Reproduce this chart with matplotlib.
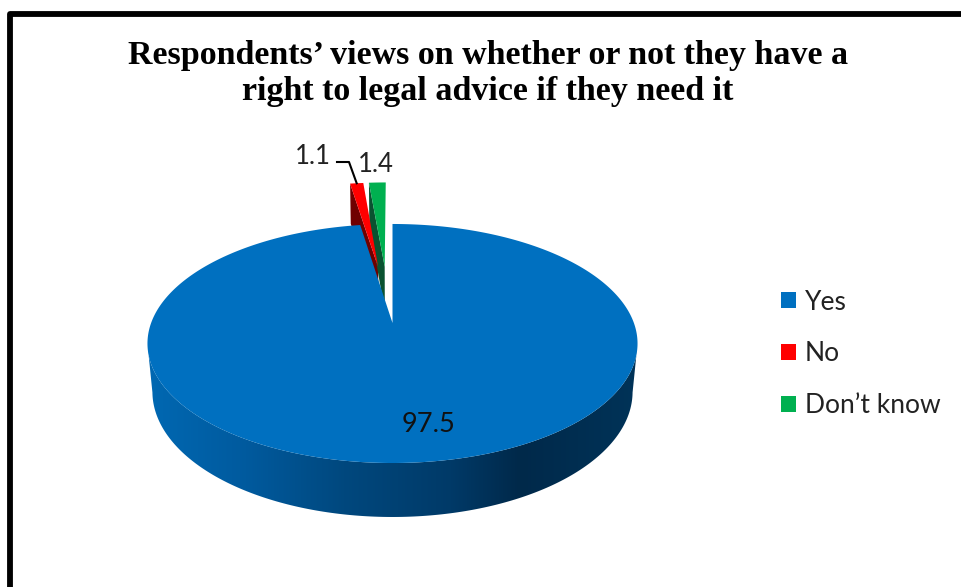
import numpy as np
import matplotlib
matplotlib.use('Agg')
import matplotlib.pyplot as plt
from matplotlib.colors import LinearSegmentedColormap
from matplotlib.patches import Patch, Polygon

labels = ['Yes', 'No', 'Don\u2019t know']
values = [97.5, 1.1, 1.4]
colors = ['#0070c0', '#ff0000', '#00b050']
wall_colors = ['#004a80', '#700000', '#0a5230']
explode = [0.0, 0.53, 0.53]
nudge = [0.0, 0.0, -0.012]
title = 'Respondents\u2019 views on whether or not they have a\nright to legal advice if they need it'

## Pie geometry in pixels, tilted with a simple perspective
cx, cy = 392.5, 323
rx, ry = 241.4, 116
depth = 48.6
persp = 0.1715
shrink = 0.02


def project(u, v, z=0.0):
    w = 1 + persp * v + shrink * z
    return cx + rx * u / w, cy + (depth * z - ry * v) / w


def rim(start, end, offset=(0, 0), z=0.0, n=200):
    # angles are clockwise from 12 o'clock
    t = np.radians(np.linspace(start, end, n))
    x, y = project(np.sin(t) + offset[0], np.cos(t) + offset[1], z)
    return np.column_stack([x, y])


fig = plt.figure(figsize=(9.62, 5.87), dpi=100)
ax = fig.add_axes([0, 0, 1, 1])
ax.set_xlim(0, 962)
ax.set_ylim(587, 0)
ax.axis('off')

## Frame around the chart, runs off the right and bottom edge
ax.plot([9.8, 9.8, 975], [600, 14, 14], color='black', lw=4.2, solid_joinstyle='round')

edges = np.concatenate([[0], np.cumsum(values)]) * 3.6

## Small slices are pulled out and drawn behind the big one
for i in [2, 1]:
    start, end = edges[i], edges[i + 1]
    mid = np.radians((start + end) / 2)
    off = (explode[i] * np.sin(mid) + nudge[i], explode[i] * np.cos(mid))
    outer = np.radians(start)
    a0 = project(off[0], off[1])
    a1 = project(off[0], off[1], 1)
    b0 = project(np.sin(outer) + off[0], np.cos(outer) + off[1])
    b1 = project(np.sin(outer) + off[0], np.cos(outer) + off[1], 1)
    ax.add_patch(Polygon([a0, b0, b1, a1], closed=True, fc=wall_colors[i], ec='none', zorder=2 + i))
    face = np.vstack([a0, rim(start, end, off, n=10)])
    ax.add_patch(Polygon(face, closed=True, fc=colors[i], ec='none', zorder=3 + i))

## Front wall of the big slice with its horizontal shading
side = np.vstack([rim(100, 260), rim(260, 100, z=1)])
side_patch = Polygon(side, closed=True, fc='none', ec='none', zorder=6)
ax.add_patch(side_patch)
shade = LinearSegmentedColormap.from_list('shade', [
    (0.00, '#0068b2'), (0.20, '#005a9e'), (0.40, '#00487e'),
    (0.62, '#003a68'), (0.76, '#00294a'), (1.00, '#003358')])
img = ax.imshow(np.linspace(0, 1, 256).reshape(1, -1), cmap=shade, aspect='auto',
                extent=(148, 637, 530, 300), zorder=6)
img.set_clip_path(side_patch)
ax.set_xlim(0, 962)
ax.set_ylim(587, 0)

## Top of the big slice
top = np.vstack([[project(0, 0)], rim(edges[0], edges[1], n=500)])
ax.add_patch(Polygon(top, closed=True, fc=colors[0], ec='none', zorder=7))

ax.text(428.5, 425, '97.5', ha='center', va='center', fontsize=19.5, family='Lato', color='#111111', zorder=8)
ax.text(312.5, 156, '1.1', ha='center', va='center', fontsize=18.5, family='Lato', color='#222222', zorder=8)
ax.text(375.5, 164, '1.4', ha='center', va='center', fontsize=18.5, family='Lato', color='#222222', zorder=8)

## Leader line from the 1.1 label to its slice
mid = np.radians((edges[1] + edges[2]) / 2)
lx, ly = project(np.sin(mid) * (1 + explode[1]), np.cos(mid) * (1 + explode[1]))
ax.plot([337, 349, lx], [162, 162, ly], color='black', lw=1.5, zorder=8)

ax.text(488, 73.5, title, ha='center', va='center', fontsize=24.5, family='Liberation Serif',
        weight='bold', color='black', linespacing=1.21)

handles = [Patch(fc=c, ec='none', label=l) for c, l in zip(colors, labels)]
ax.legend(handles=handles, loc='upper left', bbox_to_anchor=(781 / 962, 1 - 289.5 / 587),
          frameon=False, prop={'family': 'Lato', 'size': 19}, labelcolor='#222222',
          handlelength=0.57, handleheight=0.57, handletextpad=0.34, labelspacing=1.02,
          borderpad=0, borderaxespad=0)

plt.savefig('out.png', dpi=100)
